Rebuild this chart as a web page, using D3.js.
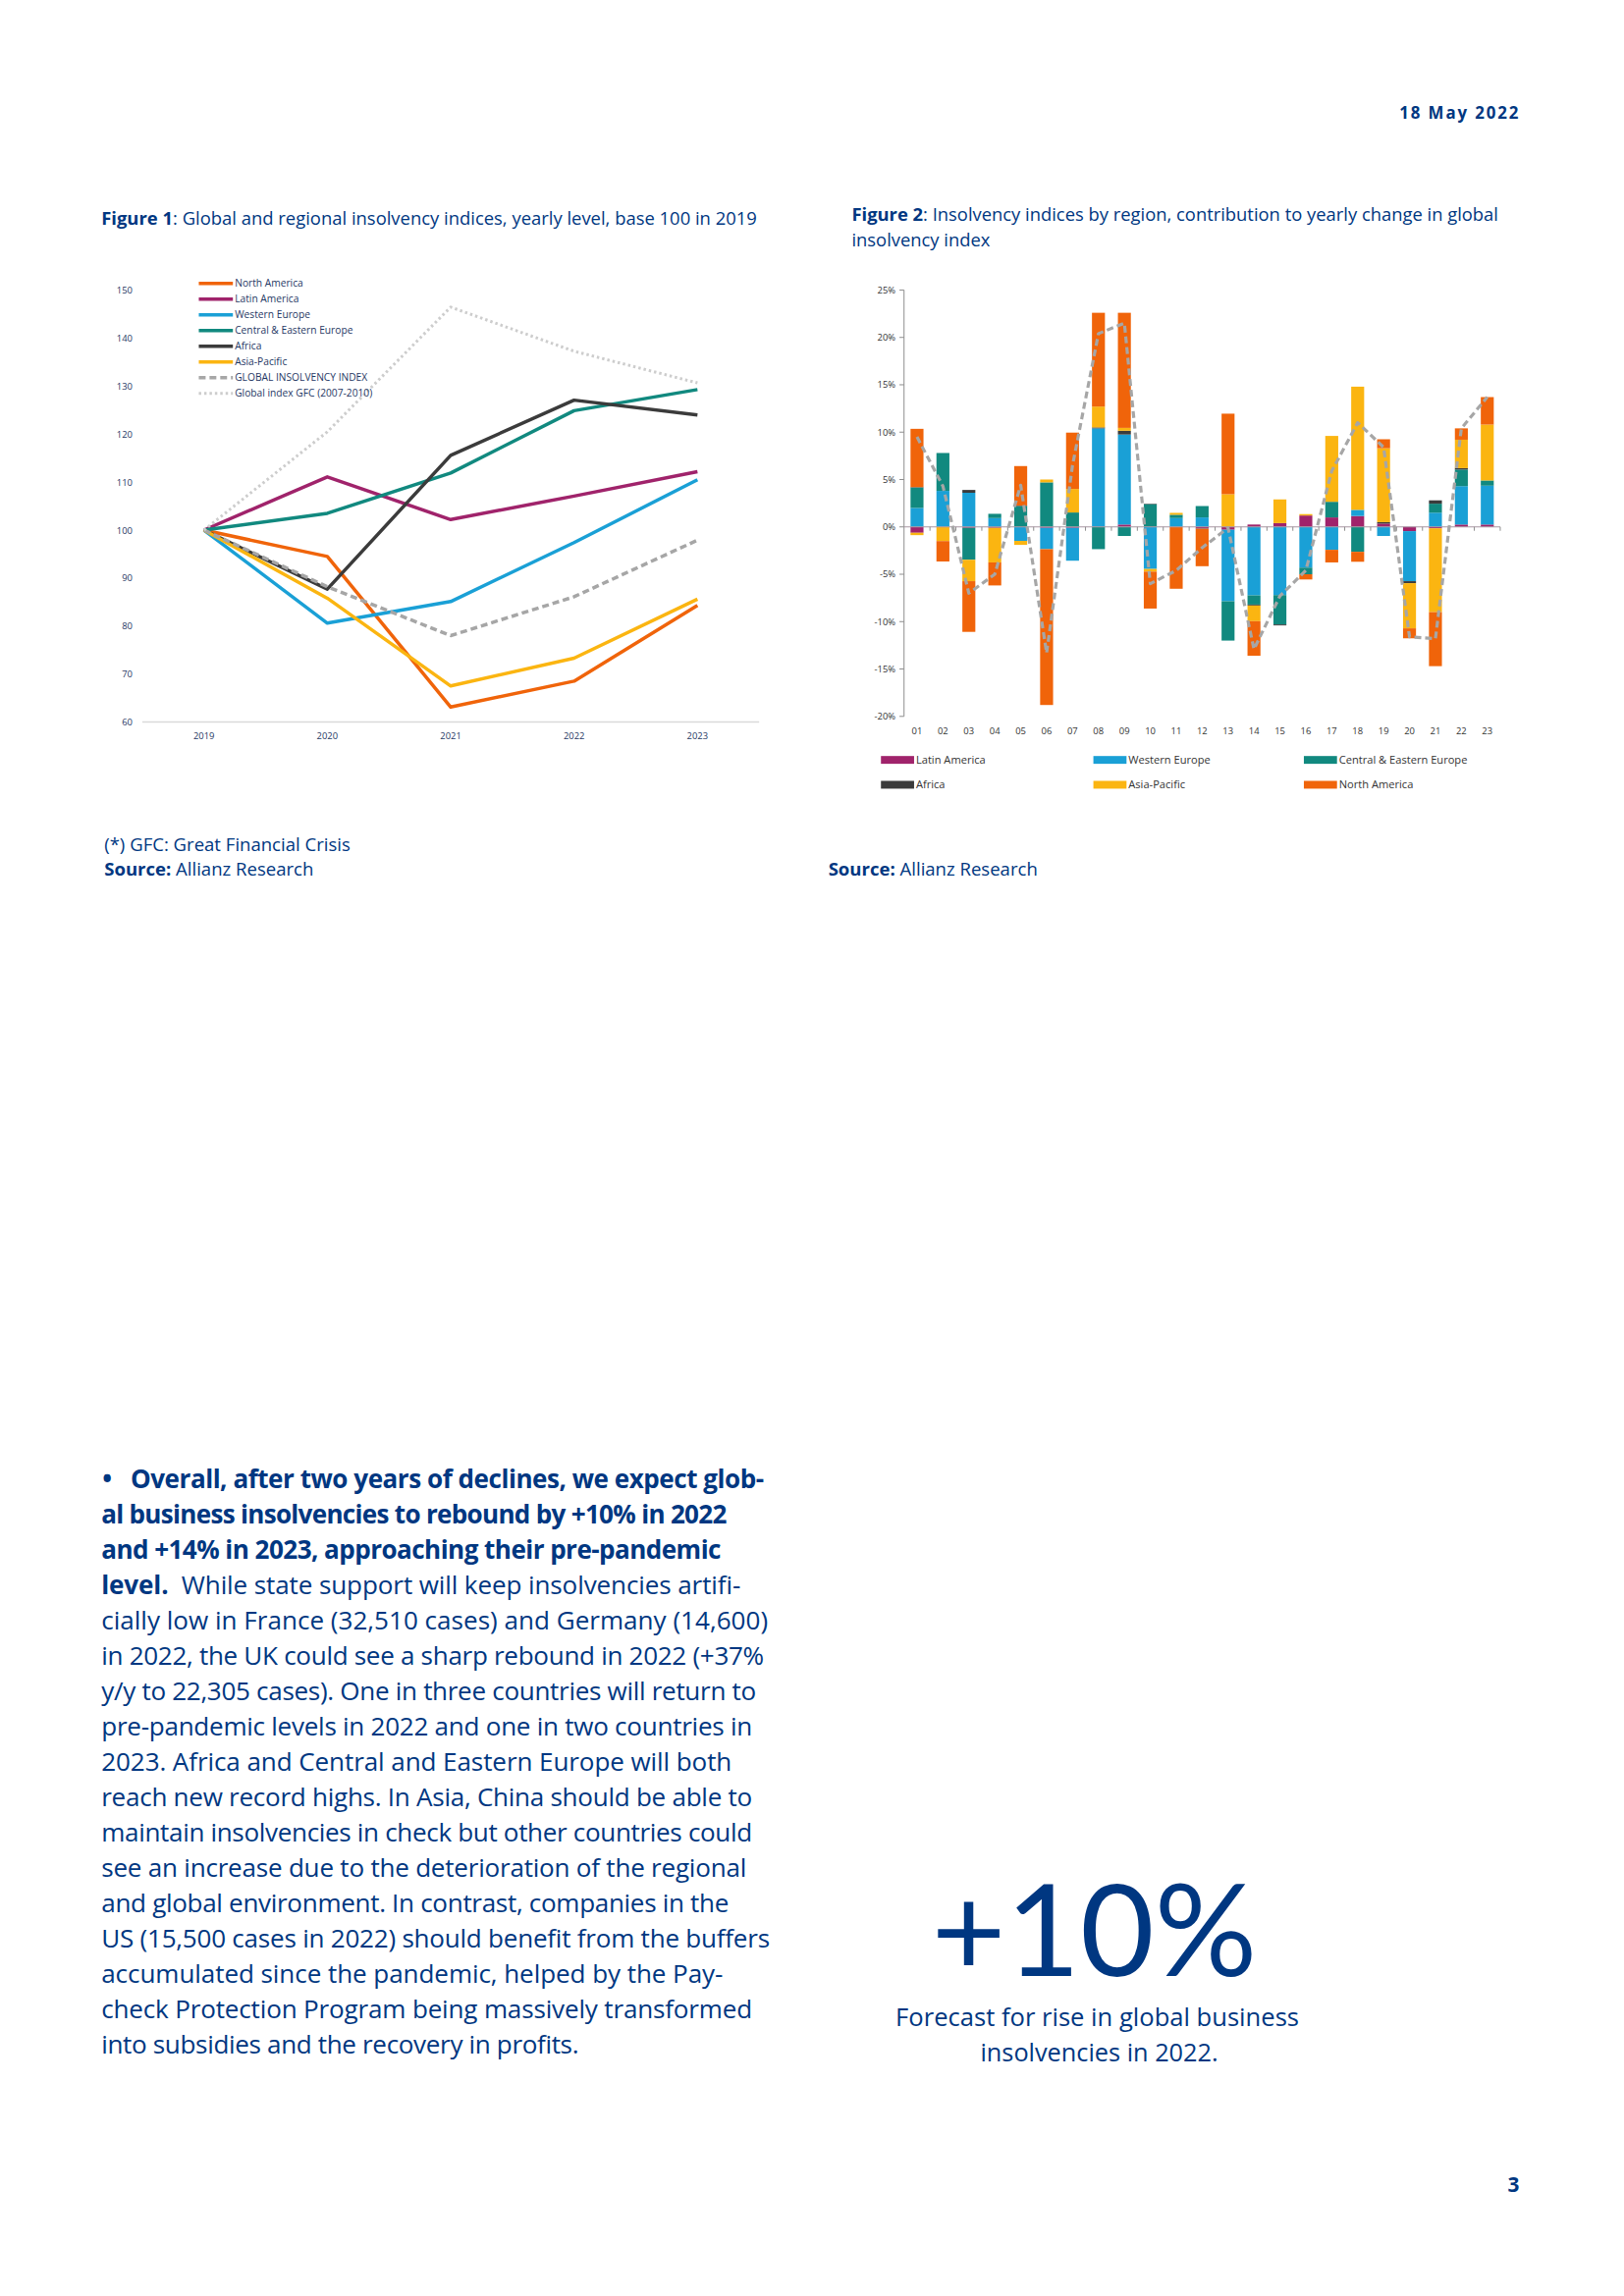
<!DOCTYPE html>
<html lang="en">
<head>
<meta charset="utf-8">
<title>Insolvency indices</title>
<style>
  body { margin: 0; background: #fff; }
  svg { display: block; font-family: "Open Sans", Lato, sans-serif; }
</style>
</head>
<body>
<svg id="page" width="1654" height="2339"></svg>
<script src="https://cdn.jsdelivr.net/npm/d3@7"></script>
<script>
// ---- Figure 1 data: index level, base 100 in 2019
const years = ["2019", "2020", "2021", "2022", "2023"];
const northAmerica = [100, 94.5, 63.1, 68.5, 84.3];
const latinAmerica = [100, 111.1, 102.2, 107.1, 112.2];
const westernEurope = [100, 80.6, 85.1, 97.4, 110.5];
const ceEurope = [100, 103.5, 111.9, 124.9, 129.3];
const africa = [100, 87.7, 115.6, 127.1, 124.0];
const asiaPacific = [100, 85.8, 67.5, 73.3, 85.6];
const globalIndex = [100, 88.2, 78.0, 86.1, 97.9];
const gfcIndex = [100, 120.5, 146.5, 137.3, 130.7];
const fig1Ticks = [60, 70, 80, 90, 100, 110, 120, 130, 140, 150];

// ---- Figure 2 data: contribution to yearly change in global index (%)
const periods = ["01","02","03","04","05","06","07","08","09","10","11","12",
                 "13","14","15","16","17","18","19","20","21","22","23"];
const contribLatin   = [-0.62, 0, -0.1, -0.1, 0, -0.1, -0.1, 0, 0.25, 0, 0, -0.15, -0.3, 0.25, 0.4, 1.2, 1.0, 1.15, 0.35, -0.45, -0.15, 0.25, 0.25];
const contribWestern = [2.0, 3.8, 3.6, 0.93, -1.48, -2.25, -3.47, 10.4, 9.5, -4.44, 0.93, 1.0, -7.55, -7.23, -7.2, -4.3, -2.42, 0.65, -0.96, -5.28, 1.5, 4.05, 4.1];
const contribCEE     = [2.15, 4.0, -3.37, 0.45, 2.2, 4.7, 1.52, -2.35, -0.96, 2.4, 0.35, 1.2, -4.15, -0.97, -3.1, -0.7, 1.65, -2.63, 0, 0, 0.95, 1.75, 0.55];
const contribAfrica  = [0.05, 0, 0.3, 0, 0.05, 0, 0, 0.1, 0.4, 0.05, 0, -0.05, 0, -0.1, -0.1, 0, 0, 0, 0.15, -0.21, 0.35, 0.15, 0];
const contribAsia    = [-0.25, -1.5, -2.26, -3.65, -0.42, 0.3, 2.48, 2.2, 0.3, -0.28, 0.2, 0, 3.45, -1.65, 2.5, 0.15, 6.95, 13.0, 7.8, -4.77, -8.85, 3.0, 5.9];
const contribNorth   = [6.15, -2.15, -5.35, -2.43, 4.17, -16.45, 5.95, 9.9, 12.15, -3.9, -6.53, -3.95, 8.5, -3.65, 0, -0.55, -1.33, -1.05, 0.95, -1.05, -5.7, 1.2, 2.9];
const globalChange   = [9.5, 4.3, -7.0, -5.0, 4.4, -13.3, 6.5, 20.4, 21.5, -6.0, -4.6, -2.2, -0.1, -12.9, -7.3, -4.6, 5.9, 11.0, 8.4, -11.6, -11.8, 10.4, 13.7];
const fig2Ticks = [-20, -15, -10, -5, 0, 5, 10, 15, 20, 25];

// ---- page texts
const bodyLines = [
  [["Overall, after two years of declines, we expect glob-", true]],
  [["al business insolvencies to rebound by +10% in 2022", true]],
  [["and +14% in 2023, approaching their pre-pandemic", true]],
  [["level.", true], ["  While state support will keep insolvencies artifi-", false]],
  [["cially low in France (32,510 cases) and Germany (14,600)", false]],
  [["in 2022, the UK could see a sharp rebound in 2022 (+37%", false]],
  [["y/y to 22,305 cases). One in three countries will return to", false]],
  [["pre-pandemic levels in 2022 and one in two countries in", false]],
  [["2023. Africa and Central and Eastern Europe will both", false]],
  [["reach new record highs. In Asia, China should be able to", false]],
  [["maintain insolvencies in check but other countries could", false]],
  [["see an increase due to the deterioration of the regional", false]],
  [["and global environment. In contrast, companies in the", false]],
  [["US (15,500 cases in 2022) should benefit from the buffers", false]],
  [["accumulated since the pandemic, helped by the Pay-", false]],
  [["check Protection Program being massively transformed", false]],
  [["into subsidies and the recovery in profits.", false]]
];
// right edge of each set line (page layout, not data)
const bodyLineEnds = [784, 746, 740, 760, 788, 784, 776, 772, 751, 772, 772, 766, 748, 790, 742, 772, 594];
const captionLines = ["Forecast for rise in global business", "insolvencies in 2022."];

const navy = "#003781";
const svg = d3.select("#page");
svg.append("rect").attr("width", 1654).attr("height", 2339).attr("fill", "#fff");
// the page content was measured slightly large; pull everything back a touch
const page = svg.append("g").attr("transform", "scale(0.9925)");

// fit a text node's font size so it spans a given width
function fitWidth(sel, target) {
  const fs = +sel.attr("font-size");
  const w = sel.node().getComputedTextLength();
  sel.attr("font-size", fs * target / w);
  return fs * target / w;
}

// header / footer
page.append("text").attr("x", 1560).attr("y", 122).attr("text-anchor", "end")
  .attr("font-size", 17).attr("font-weight", 700).attr("letter-spacing", 1.9)
  .attr("fill", navy).text("18 May 2022");
page.append("text").attr("x", 1559).attr("y", 2250).attr("text-anchor", "end")
  .attr("font-size", 21).attr("font-weight", 700).attr("fill", navy).text("3");

function title(x, y, bold, rest, size) {
  const t = page.append("text").attr("x", x).attr("y", y)
    .attr("font-size", size || 18).attr("fill", navy);
  t.append("tspan").attr("font-weight", 700).text(bold);
  t.append("tspan").text(rest);
  return t;
}

// ================= Figure 1 =================
fitWidth(title(104, 231, "Figure 1", ": Global and regional insolvency indices, yearly level, base 100 in 2019"), 673);

const x1 = d3.scalePoint().domain(years).range([146, 779]).padding(0.5);
const y1 = d3.scaleLinear().domain([60, 150]).range([741, 298]);

const f1 = page.append("g");
f1.append("line").attr("x1", 146).attr("x2", 779).attr("y1", y1(60)).attr("y2", y1(60))
  .attr("stroke", "#d9d9d9").attr("stroke-width", 1.5);
f1.selectAll(".ytick").data(fig1Ticks).join("text")
  .attr("x", 136).attr("y", d => y1(d) + 3.5).attr("text-anchor", "end")
  .attr("font-size", 9.5).attr("fill", "#1f3864").text(d => d);
f1.selectAll(".xtick").data(years).join("text")
  .attr("x", d => x1(d)).attr("y", 759).attr("text-anchor", "middle")
  .attr("font-size", 9.5).attr("fill", "#1f3864").text(d => d);

const fig1Series = [
  { name: "North America", values: northAmerica, color: "#f0640a", dash: null, w: 3.5 },
  { name: "Latin America", values: latinAmerica, color: "#a0236b", dash: null, w: 3.5 },
  { name: "Western Europe", values: westernEurope, color: "#1aa0d6", dash: null, w: 3.5 },
  { name: "Central & Eastern Europe", values: ceEurope, color: "#11897f", dash: null, w: 3.5 },
  { name: "Africa", values: africa, color: "#3b3b3b", dash: null, w: 3.5 },
  { name: "Asia-Pacific", values: asiaPacific, color: "#fbb511", dash: null, w: 3.5 },
  { name: "GLOBAL INSOLVENCY INDEX", values: globalIndex, color: "#a6a6a6", dash: "7,4", w: 3.5 },
  { name: "Global index GFC (2007-2010)", values: gfcIndex, color: "#cdcdcd", dash: "2.5,3", w: 3 }
];

const line1 = d3.line().x((d, i) => x1(years[i])).y(d => y1(d));
f1.selectAll(".series").data(fig1Series).join("path")
  .attr("d", s => line1(s.values)).attr("fill", "none")
  .attr("stroke", s => s.color).attr("stroke-width", s => s.w)
  .attr("stroke-dasharray", s => s.dash).attr("stroke-linejoin", "round");

const leg1 = f1.selectAll(".leg").data(fig1Series).join("g")
  .attr("transform", (s, i) => `translate(0,${291 + i * 16.1})`);
leg1.append("line").attr("x1", 204).attr("x2", 239)
  .attr("stroke", s => s.color).attr("stroke-width", s => s.w).attr("stroke-dasharray", s => s.dash);
leg1.append("text").attr("x", 241).attr("y", 3.6).attr("font-size", 10.3)
  .attr("fill", "#1f3864").text(s => s.name);

page.append("text").attr("x", 107).attr("y", 874).attr("font-size", 18.7).attr("fill", navy)
  .text("(*) GFC: Great Financial Crisis");
title(107, 899, "Source:", " Allianz Research", 18.7);

// ================= Figure 2 =================
const t2 = title(874, 227, "Figure 2", ": Insolvency indices by region, contribution to yearly change in global");
const t2size = fitWidth(t2, 664);
page.append("text").attr("x", 874).attr("y", 253).attr("font-size", t2size).attr("fill", navy)
  .text("insolvency index");

const x2 = d3.scaleBand().domain(periods).range([927.7, 1539.5]).paddingInner(0.5).paddingOuter(0.25);
const y2 = d3.scaleLinear().domain([-20, 25]).range([735.3, 297.7]);

const regionKeys = ["Latin America", "Western Europe", "Central & Eastern Europe", "Africa", "Asia-Pacific", "North America"];
const regionColors = ["#a0236b", "#1aa0d6", "#11897f", "#3b3b3b", "#fbb511", "#f0640a"];
const regionValues = [contribLatin, contribWestern, contribCEE, contribAfrica, contribAsia, contribNorth];
const table = periods.map((p, i) => {
  const row = { period: p };
  regionKeys.forEach((k, j) => { row[k] = regionValues[j][i]; });
  return row;
});
const stacked = d3.stack().keys(regionKeys).offset(d3.stackOffsetDiverging)(table);
const color2 = d3.scaleOrdinal(regionKeys, regionColors);

const f2 = page.append("g");
f2.selectAll(".layer").data(stacked).join("g").attr("fill", d => color2(d.key))
  .selectAll("rect").data(d => d).join("rect")
  .attr("x", d => x2(d.data.period)).attr("width", x2.bandwidth())
  .attr("y", d => y2(Math.max(d[0], d[1])))
  .attr("height", d => Math.abs(y2(d[0]) - y2(d[1])));

// axes
const axisColor = "#8c8c8c";
f2.append("line").attr("x1", 927.7).attr("x2", 927.7).attr("y1", y2(25)).attr("y2", y2(-20))
  .attr("stroke", axisColor).attr("stroke-width", 1);
f2.selectAll(".ytk").data(fig2Ticks).join("line")
  .attr("x1", 923).attr("x2", 927.7).attr("y1", d => y2(d)).attr("y2", d => y2(d))
  .attr("stroke", axisColor);
f2.selectAll(".ylab").data(fig2Ticks).join("text")
  .attr("x", 919).attr("y", d => y2(d) + 3.5).attr("text-anchor", "end")
  .attr("font-size", 9.5).attr("fill", "#333").text(d => d + "%");
f2.append("line").attr("x1", 927.7).attr("x2", 1539.5).attr("y1", y2(0)).attr("y2", y2(0))
  .attr("stroke", "#a997a3").attr("stroke-width", 1.2);
f2.selectAll(".xtk").data(periods).join("line")
  .attr("x1", d => x2(d) + x2.bandwidth() / 2 + x2.step() / 2)
  .attr("x2", d => x2(d) + x2.bandwidth() / 2 + x2.step() / 2)
  .attr("y1", y2(0)).attr("y2", y2(0) + 4).attr("stroke", axisColor);
f2.selectAll(".xlab").data(periods).join("text")
  .attr("x", d => x2(d) + x2.bandwidth() / 2).attr("y", 754).attr("text-anchor", "middle")
  .attr("font-size", 9.5).attr("fill", "#333").text(d => d);

// global index line
const line2 = d3.line().x((d, i) => x2(periods[i]) + x2.bandwidth() / 2).y(d => y2(d));
f2.append("path").attr("d", line2(globalChange)).attr("fill", "none")
  .attr("stroke", "#a6a6a6").attr("stroke-width", 3.2).attr("stroke-dasharray", "7,4")
  .attr("stroke-linejoin", "round");

// legend
const legOrder = ["Latin America", "Western Europe", "Central & Eastern Europe", "Africa", "Asia-Pacific", "North America"];
const legCols = [904, 1122, 1338];
const leg2 = f2.selectAll(".leg2").data(legOrder).join("g")
  .attr("transform", (d, i) => `translate(${legCols[i % 3]},${780 + Math.floor(i / 3) * 25.5})`);
leg2.append("rect").attr("x", 0).attr("y", -4).attr("width", 34).attr("height", 8).attr("fill", d => color2(d));
leg2.append("text").attr("x", 36).attr("y", 4).attr("font-size", 11.2).attr("fill", "#333").text(d => d);

title(850, 899, "Source:", " Allianz Research", 18.7);

// ================= body text =================
const body = page.append("g").attr("fill", navy).attr("font-size", 24);
const bullet = body.append("text").attr("x", 105).attr("y", 1527).attr("font-weight", 700).text("•");
const bodyTexts = bodyLines.map((parts, i) => {
  const t = body.append("text").attr("x", i === 0 ? 134 : 104).attr("y", 1527 + i * 36.3)
    .attr("xml:space", "preserve");
  parts.forEach(([s, b]) => t.append("tspan").attr("font-weight", b ? 700 : 400).text(s));
  return t;
});
// size from the widest regular line, then set each line to its measured length
const bodySize = 24 * 684 / bodyTexts[4].node().getComputedTextLength();
bullet.attr("font-size", bodySize);
bodyTexts.forEach((t, i) => {
  t.attr("font-size", bodySize);
  const chars = bodyLines[i].reduce((n, p) => n + p[0].length, 0);
  const target = bodyLineEnds[i] - (+t.attr("x"));
  const w = t.node().getComputedTextLength();
  t.attr("letter-spacing", (target - w) / (chars - 1));
});

// callout
fitWidth(page.append("text").attr("x", 1123).attr("y", 2028).attr("text-anchor", "middle")
  .style("font-family", "Lato, 'Open Sans', sans-serif")
  .attr("font-size", 130).attr("font-weight", 400).attr("fill", navy).text("+10%"), 334);
// two-line caption set as one text block, leading just clear of the glyph boxes
const cap = page.append("text").attr("text-anchor", "middle").attr("fill", navy).attr("font-size", 23);
const capSpans = captionLines.map((s, i) => cap.append("tspan")
  .attr("x", i === 0 ? 1126 : 1128).attr("y", i === 0 ? 2080 : 2116).text(s));
[414, 244].forEach((target, i) => {
  const w = capSpans[i].node().getComputedTextLength();
  capSpans[i].attr("font-size", 23 * target / w);
});
</script>
</body>
</html>
